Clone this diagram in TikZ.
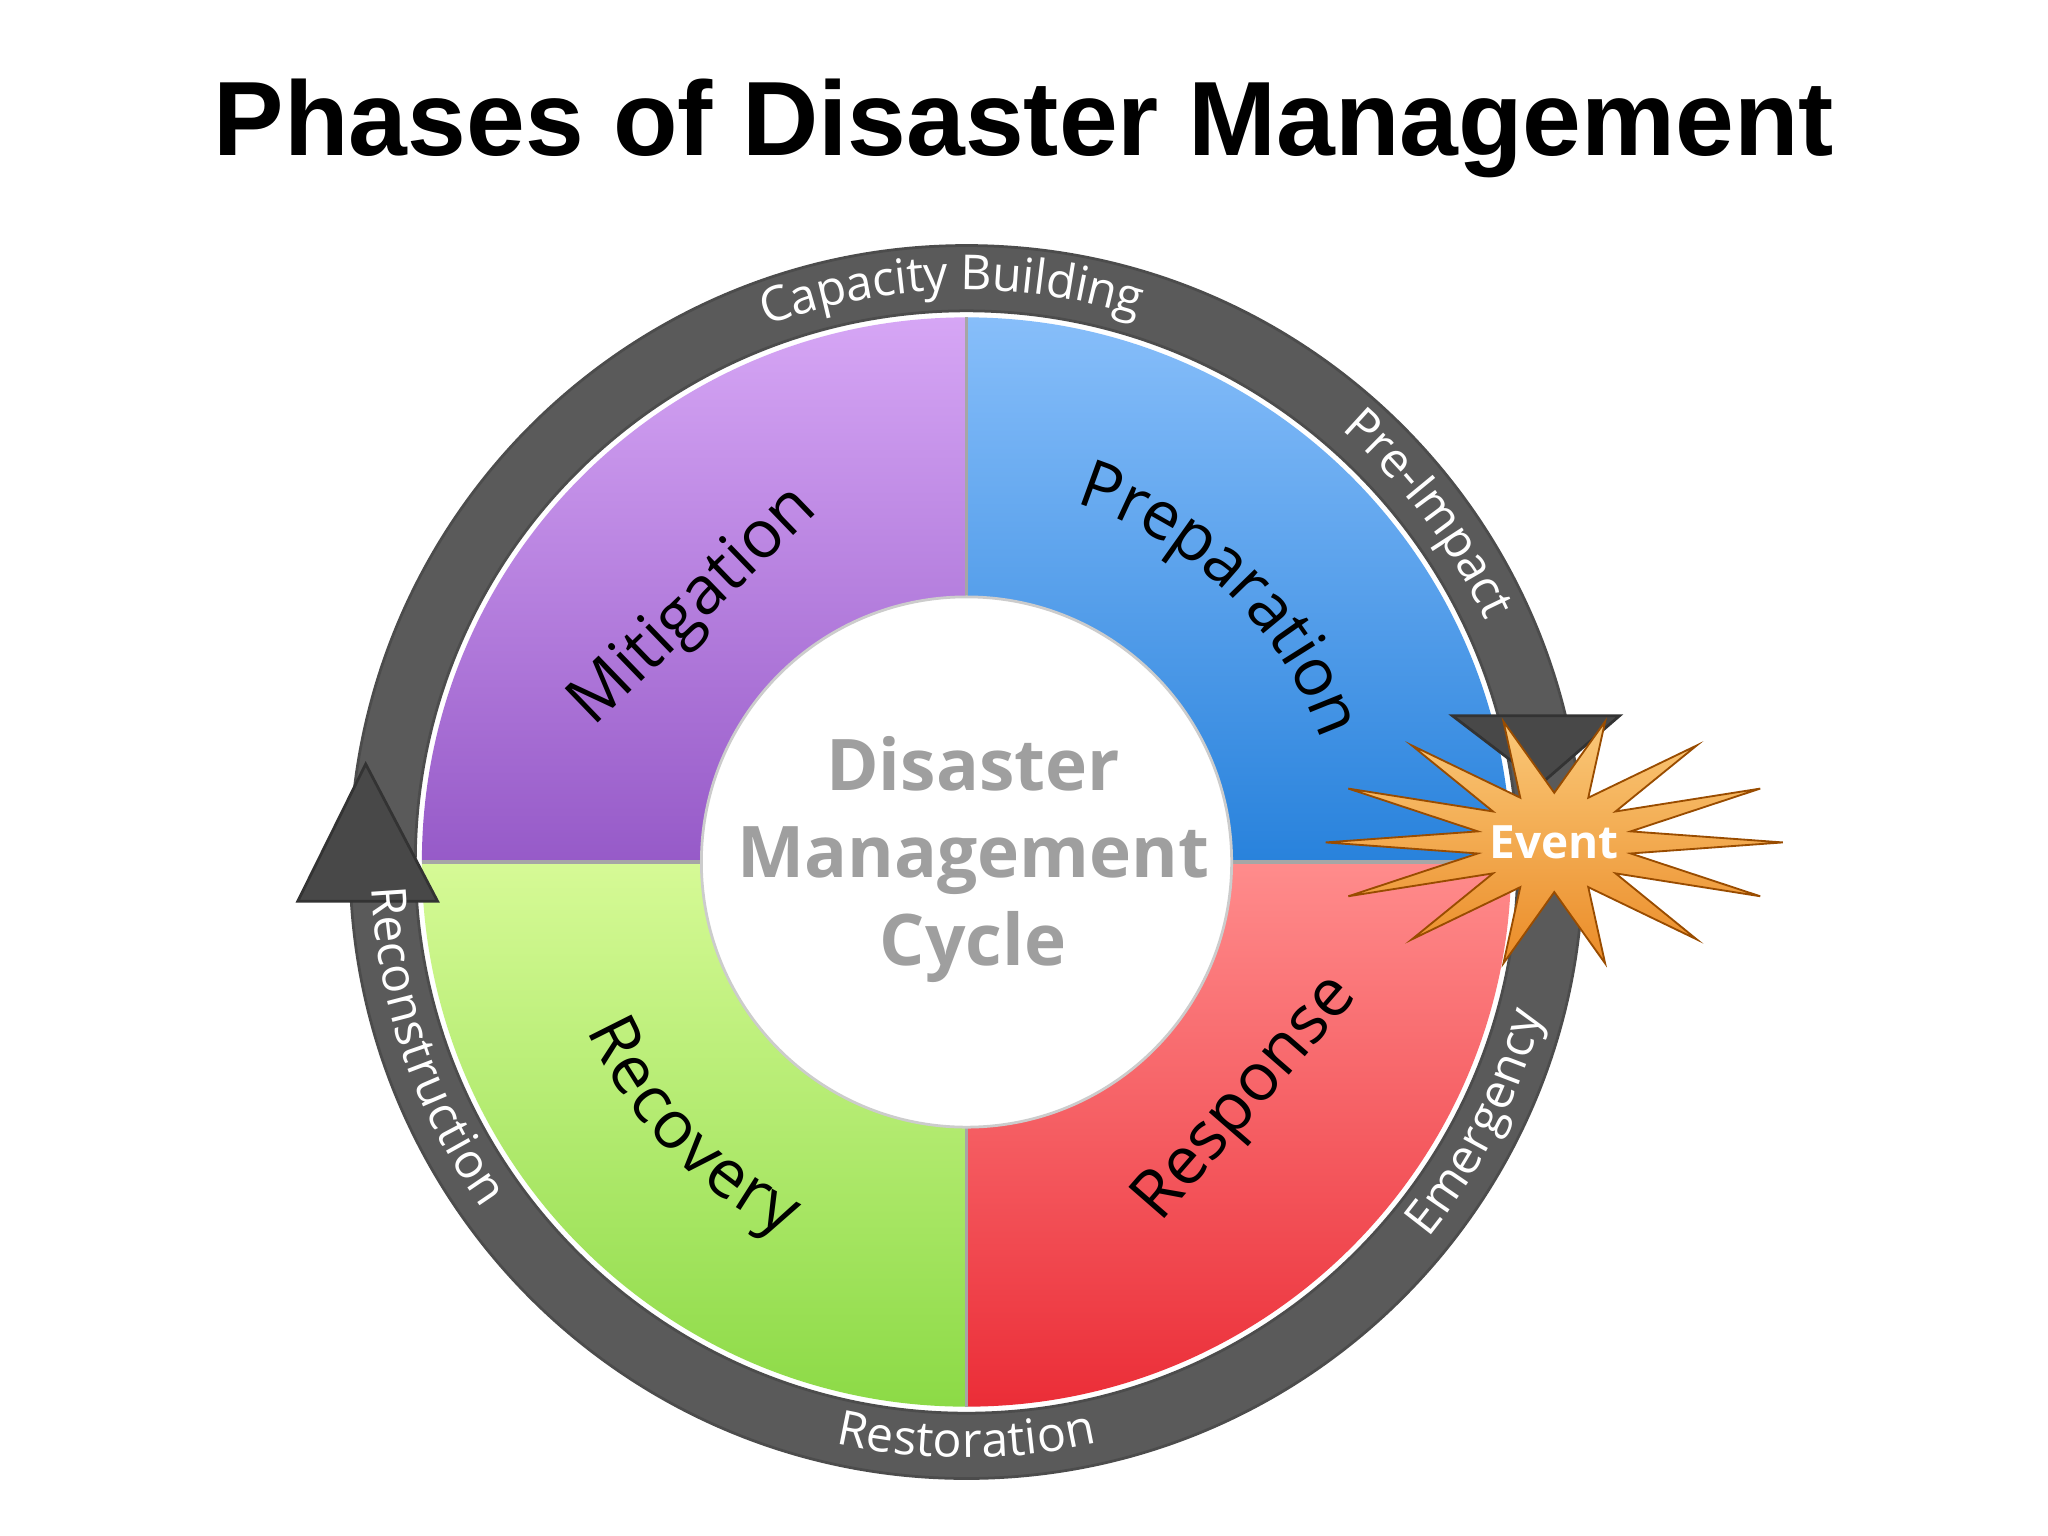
\documentclass[tikz,border=0pt]{standalone}
\usepackage{fontspec}
\setmainfont{Liberation Sans}
\newfontfamily\cand{Open Sans}
\usetikzlibrary{decorations.text}
\definecolor{ringc}{HTML}{5A5A5A}
\begin{document}
\begin{tikzpicture}[x=0.01cm,y=0.01cm,
  ringtxt/.style={decorate,decoration={text along path,text align=center,raise=-0.09cm,
     text={|\cand\fontsize{10.5}{10.5}\selectfont\color{white}|#1}}},
  bigtxt/.style={decorate,decoration={text along path,text align=center,raise=-0.13cm,
     text={|\cand\fontsize{14.5}{14.5}\selectfont\color{black}|#1}}},
  qlabel/.style={font=\cand\fontsize{14.5}{14.5}\selectfont,text=black}]
\useasboundingbox (0,0) rectangle (1568,1176);
\fill[white] (0,0) rectangle (1568,1176);
\node[font=\bfseries\fontsize{23}{27}\selectfont,inner sep=0] (title) at (784,1078) {Phases of Disaster Management};
\coordinate (c) at (740,516);
% ring
\draw[ringc,line width=0.5cm] (c) circle (447);
\draw[black!70,line width=0.6pt] (c) circle (472) (c) circle (422);
% quadrants
\shade[top color={rgb,255:red,214;green,166;blue,245},bottom color={rgb,255:red,150;green,90;blue,200}] (c) -- ++(90:417) arc (90:180:417) -- cycle;
\shade[top color={rgb,255:red,214;green,250;blue,150},bottom color={rgb,255:red,140;green,218;blue,70}] (c) -- ++(180:417) arc (180:270:417) -- cycle;
\shade[top color={rgb,255:red,255;green,140;blue,140},bottom color={rgb,255:red,235;green,45;blue,55}] (c) -- ++(270:417) arc (270:360:417) -- cycle;
\shade[top color={rgb,255:red,135;green,190;blue,250},bottom color={rgb,255:red,40;green,130;blue,220}] (c) -- ++(0:417) arc (0:90:417) -- cycle;
\draw[gray!70,line width=0.8pt] (c) ++(90:417) -- ++(0,-834) (c) ++(180:417) -- ++(834,0);
\fill[white] (c) circle (203);
\draw[gray!40,line width=0.6pt] (c) circle (203);
% arrowheads
\fill[ringc!80!black] (280,591) -- (335,486) -- (228,486) -- cycle;
\draw[black!80,line width=0.6pt] (280,591) -- (335,486) -- (228,486) -- cycle;
\fill[ringc!80!black] (1180,576) -- (1240,628) -- (1112,628) -- cycle;
\draw[black!80,line width=0.6pt] (1180,576) -- (1240,628) -- (1112,628) -- cycle;
% ring labels
\path[ringtxt={Capacity Building}] (c) ++(128:447) arc (128:55:447);
\path[ringtxt={Pre-Impact}] (c) ++(54:447) arc (54:20:447);
\path[ringtxt={Emergency}] (c) ++(312:447) arc (312:354:447);
\path[ringtxt={Restoration}] (c) ++(245:447) arc (245:295:447);
\path[ringtxt={Reconstruction}] (c) ++(170:447) arc (170:228:447);
% quadrant labels
\path[bigtxt={Preparation}] (c) ++(82:300) arc (82:10:300);
\path[bigtxt={Recovery}] (c) ++(196:305) arc (196:252:305);
\node[qlabel,rotate=44] (mit) at (532,711) {Mitigation};
\node[qlabel,rotate=49] (resp) at (955,334) {Response};
% center
\node[font=\cand\bfseries\fontsize{15.5}{19}\selectfont,text=gray!75,align=center,inner sep=0] (ctr) at (745,518) {Disaster\\Management\\Cycle};
% event star
\shade[top color={rgb,255:red,250;green,200;blue,120},bottom color={rgb,255:red,235;green,140;blue,40},draw=orange!60!black,line width=0.4pt]
 (1365,531)
 \foreach \i in {1,...,27}{ -- ({1190+(mod(\i,2)==0?175:60)*cos(\i*180/14)},{531+(mod(\i,2)==0?95:38)*sin(\i*180/14)}) } -- cycle;
\node[font=\cand\bfseries\fontsize{10}{10}\selectfont,text=white] (event) at (1190,531) {Event};
\end{tikzpicture}
\end{document}
